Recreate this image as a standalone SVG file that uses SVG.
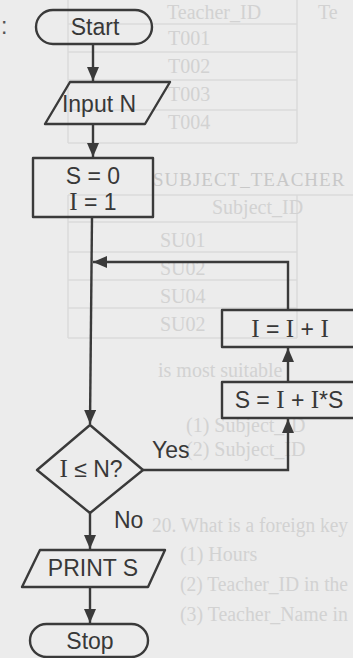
<svg xmlns="http://www.w3.org/2000/svg" width="353" height="658" viewBox="0 0 353 658">
<defs>
<style>
.shape{fill:none;stroke:#3a3a3a;stroke-width:2.4;stroke-linejoin:round}
.conn{fill:none;stroke:#3a3a3a;stroke-width:2.4}
.t{font-family:"Liberation Sans",Arial,sans-serif;font-size:23px;fill:#383838;text-anchor:middle}
.l{font-family:"Liberation Sans",Arial,sans-serif;font-size:23px;fill:#383838}
.i{font-family:"Liberation Serif","Times New Roman",serif;font-size:25px}
.bgt{font-family:"Liberation Serif","Times New Roman",serif;font-size:20px;fill:#d2d2d2}
.bgl{stroke:#dadada;stroke-width:1.5;fill:none}
</style>
<marker id="ah" viewBox="0 0 14 12" refX="14" refY="6" markerWidth="14" markerHeight="12" markerUnits="userSpaceOnUse" orient="auto">
<path d="M0,0 L14,6 L0,12 z" fill="#3a3a3a"/>
</marker>
</defs>
<rect x="0" y="0" width="353" height="658" fill="#ececec"/>
<g id="page-background">
<path class="bgl" d="M68,0V143M297,0V143M68,24H297M68,52H297M68,80H297M68,110H297M68,143H297"/>
<path class="bgl" d="M68,195V338M297,195V338M68,195H353M68,222H297M68,252H297M68,280H297M68,308H297M68,338H297"/>
<text class="bgt" x="167" y="19">Teacher_ID</text>
<text class="bgt" x="318" y="19">Te</text>
<text class="bgt" x="168" y="45">T001</text>
<text class="bgt" x="168" y="73">T002</text>
<text class="bgt" x="168" y="101">T003</text>
<text class="bgt" x="168" y="129">T004</text>
<text class="bgt" x="153" y="186" style="font-size:19px;letter-spacing:1px;fill:#c8c8c8">SUBJECT_TEACHER</text>
<text class="bgt" x="212" y="214">Subject_ID</text>
<text class="bgt" x="160" y="247">SU01</text>
<text class="bgt" x="160" y="275">SU02</text>
<text class="bgt" x="160" y="303">SU04</text>
<text class="bgt" x="160" y="331">SU02</text>
<text class="bgt" x="158" y="377">is most suitable</text>
<text class="bgt" x="186" y="432">(1)  Subject_ID</text>
<text class="bgt" x="186" y="456">(2)  Subject_ID</text>
<text class="bgt" x="152" y="532" textLength="196" lengthAdjust="spacingAndGlyphs">20.  What is a foreign key</text>
<text class="bgt" x="180" y="561">(1)  Hours</text>
<text class="bgt" x="180" y="591" textLength="168" lengthAdjust="spacingAndGlyphs">(2)  Teacher_ID in the</text>
<text class="bgt" x="180" y="621" textLength="168" lengthAdjust="spacingAndGlyphs">(3)  Teacher_Name in</text>
<text class="l" x="1" y="34" style="fill:#555">:</text>
</g>
<g id="connectors">
<path class="conn" d="M93,44V81" marker-end="url(#ah)"/>
<path class="conn" d="M93,124V157" marker-end="url(#ah)"/>
<path class="conn" d="M92,217L90,424" marker-end="url(#ah)"/>
<path class="conn" d="M288,310V262H93" marker-end="url(#ah)"/>
<path class="conn" d="M143,470H288V419" marker-end="url(#ah)"/>
<path class="conn" d="M288,382V348" marker-end="url(#ah)"/>
<path class="conn" d="M90,513V549" marker-end="url(#ah)"/>
<path class="conn" d="M90,587V623" marker-end="url(#ah)"/>
<text class="l" x="152" y="458">Yes</text>
<text class="l" x="114" y="528">No</text>
</g>
<g id="start">
<rect class="shape" x="36" y="10" width="116" height="34" rx="17"/>
<text class="t" x="95" y="35">Start</text>
</g>
<g id="input-n">
<polygon class="shape" points="70,82 170,82 145,124 45,124"/>
<text class="t" x="99" y="112">Input N</text>
</g>
<g id="init">
<rect class="shape" x="33" y="158" width="120" height="59"/>
<text class="t" x="93" y="184">S = 0</text>
<text class="t" x="93" y="210"><tspan class="i">I</tspan> = 1</text>
</g>
<g id="decision">
<polygon class="shape" points="90,425 143,470 90,513 37,470"/>
<text class="t" x="91" y="477"><tspan class="i">I</tspan> ≤ N?</text>
</g>
<g id="update-i">
<rect class="shape" x="222" y="310" width="134" height="37"/>
<text class="t" x="290" y="337"><tspan class="i">I</tspan> = <tspan class="i">I</tspan> + <tspan class="i">I</tspan></text>
</g>
<g id="update-s">
<rect class="shape" x="222" y="382" width="134" height="36"/>
<text class="t" x="289" y="408">S = <tspan class="i">I</tspan> + <tspan class="i">I</tspan>*S</text>
</g>
<g id="print-s">
<polygon class="shape" points="40,550 165,550 148,587 22,587"/>
<text class="t" x="93" y="576">PRINT S</text>
</g>
<g id="stop">
<rect class="shape" x="30" y="624" width="118" height="33" rx="16.5"/>
<text class="t" x="90" y="649">Stop</text>
</g>
</svg>
